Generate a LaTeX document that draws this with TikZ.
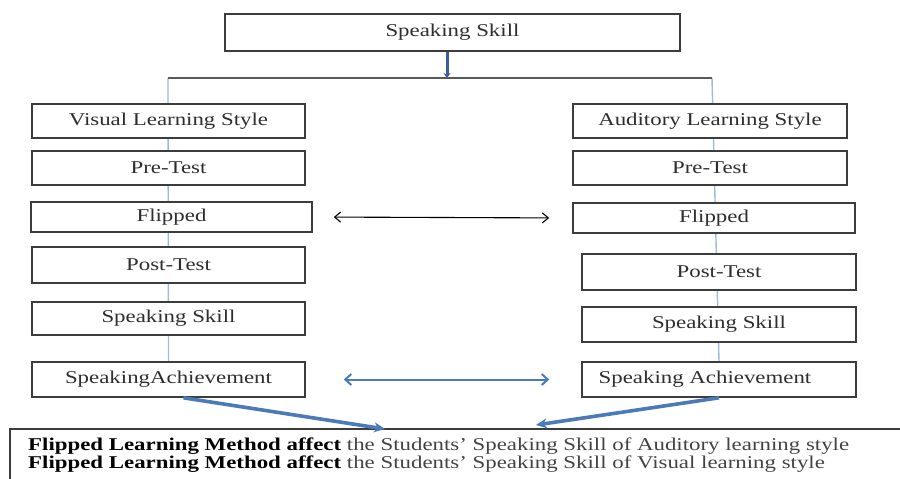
\documentclass[tikz,border=0pt]{standalone}
\usepackage{fontspec}
\setmainfont{Liberation Serif}[FakeStretch=1.27]
\usetikzlibrary{arrows.meta,backgrounds}
\definecolor{boxgray}{HTML}{3C3C3C}
\definecolor{textgray}{HTML}{2E2E2E}
\definecolor{linkblue}{HTML}{9DBBDC}
\definecolor{arrowblue}{HTML}{4A7AB8}
\definecolor{darkblue}{HTML}{3B5E9A}
\tikzset{
  stagebox/.style={draw=boxgray, line width=1.6pt, fill=white, inner sep=0pt,
    text=textgray, font=\fontsize{18}{20}\selectfont},
  link/.style={draw=linkblue, line width=1.4pt},
  bar/.style={draw=boxgray!85, line width=1.3pt},
  thickarrow/.style={draw=arrowblue, line width=3.6pt, -{Stealth[length=11pt,width=10pt]}},
  pairarrow/.style={draw=black, line width=1.1pt, {Straight Barb[length=6pt,width=10pt]}-{Straight Barb[length=6pt,width=10pt]}},
  bluepair/.style={draw=arrowblue, line width=2pt, {Straight Barb[length=6pt,width=11pt]}-{Straight Barb[length=6pt,width=11pt]}}
}
\begin{document}
\begin{tikzpicture}[x=1pt,y=-1pt]
\useasboundingbox (0,0) rectangle (900,479);

% top box
\node[stagebox, minimum width=455pt, minimum height=37pt] (top) at (452.5,32.5) {Speaking Skill};

% left column
\node[stagebox, minimum width=273pt, minimum height=34pt] (lvis)   at (168.5,121)   {Visual Learning Style};
\node[stagebox, minimum width=273pt, minimum height=34pt] (lpre)   at (168.5,168)   {Pre-Test};
\node[stagebox, minimum width=281pt, minimum height=30pt] (lflip)  at (171.5,217)   {Flipped};
\node[stagebox, minimum width=273pt, minimum height=36pt] (lpost)  at (168.5,265)   {Post-Test};
\node[stagebox, minimum width=273pt, minimum height=33pt] (lskill) at (168.5,318.5) {Speaking Skill};
\node[stagebox, minimum width=273pt, minimum height=35pt] (lach)   at (168.5,379.5) {SpeakingAchievement};

% right column
\node[stagebox, minimum width=274pt, minimum height=34pt] (rvis)   at (710,121)   {Auditory Learning Style};
\node[stagebox, minimum width=274pt, minimum height=34pt] (rpre)   at (710,168)   {Pre-Test};
\node[stagebox, minimum width=282pt, minimum height=30pt] (rflip)  at (714,218)   {Flipped};
\node[stagebox, minimum width=274pt, minimum height=36pt] (rpost)  at (719,272)   {Post-Test};
\node[stagebox, minimum width=274pt, minimum height=35pt] (rskill) at (719,324.5) {Speaking Skill};
\node[stagebox, minimum width=274pt, minimum height=35pt] (rach)   at (719,379.5) {Speaking Achievement\hspace*{28pt}};

% branch points and arrow ends
\coordinate (jl) at (168,78);
\coordinate (jr) at (712,78);
\coordinate (tj) at (447,78);
\coordinate (la) at (385,429);
\coordinate (ra) at (536,425);

% connecting lines behind the boxes
\begin{scope}[on background layer]
  \draw[link] (jl) -- (lach.north);
  \draw[link] (jr) -- (rach.north);
  \draw[bar] (jl) -- (jr);
\end{scope}

\draw[darkblue, line width=3pt, -{Stealth[length=5pt,width=7pt]}] (tj |- top.south) -- (tj);

% comparison arrows
\draw[pairarrow, shorten <=21pt, shorten >=23pt] (lflip.east) -- (rflip.west);
\draw[bluepair, shorten <=38pt, shorten >=32pt] (lach.east) -- (rach.west);

% conclusion frame
\draw[boxgray, line width=1.6pt] (10,495) |- (910,429);
\node[anchor=west, inner sep=0pt, align=left, text=textgray!90,
      font=\fontsize{18}{18}\selectfont] (concl) at (28,455)
  {\textcolor{black}{\textbf{Flipped Learning Method affect}} the Students' Speaking Skill of Auditory learning style\\
   \textcolor{black}{\textbf{Flipped Learning Method affect}} the Students' Speaking Skill of Visual learning style};

% arrows into the conclusion
\draw[thickarrow] ([xshift=15pt]lach.south) -- (la);
\draw[thickarrow] (rach.south) -- (ra);
\end{tikzpicture}
\end{document}
